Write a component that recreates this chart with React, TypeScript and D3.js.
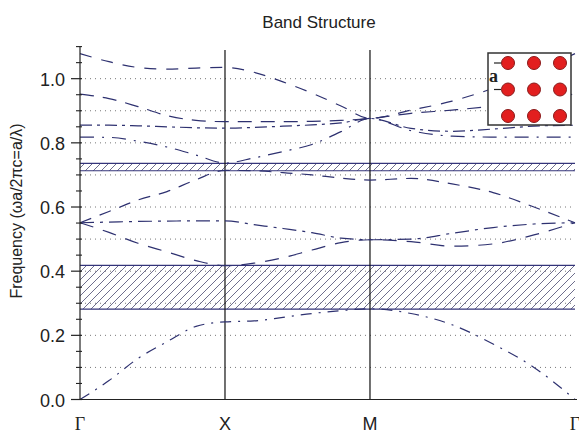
import React from "react";
import * as d3 from "d3";

const kLabels = ["Γ", "X", "M", "Γ"];
const kLabelSerif = [true, false, false, true];
const kTicks = [0, 1, 2, 3.414];
const kGrid = [0, 0.2, 0.4, 0.6, 0.8, 1.0, 1.2, 1.4, 1.6, 1.8, 2.0, 2.283, 2.566, 2.849, 3.131, 3.414];

const band1 = [0, 0.059, 0.128, 0.18, 0.228, 0.242, 0.245, 0.256, 0.268, 0.277, 0.283, 0.268, 0.233, 0.173, 0.1, 0.0];
const band2 = [0.551, 0.521, 0.487, 0.46, 0.433, 0.417, 0.425, 0.442, 0.466, 0.489, 0.498, 0.492, 0.478, 0.485, 0.513, 0.551];
const band3 = [0.551, 0.553, 0.555, 0.556, 0.557, 0.557, 0.545, 0.533, 0.52, 0.503, 0.498, 0.5, 0.518, 0.536, 0.547, 0.551];
const band4 = [0.551, 0.586, 0.622, 0.648, 0.685, 0.714, 0.713, 0.707, 0.7, 0.69, 0.684, 0.689, 0.672, 0.645, 0.6, 0.551];
const band5 = [0.818, 0.817, 0.805, 0.787, 0.762, 0.737, 0.753, 0.773, 0.795, 0.835, 0.876, 0.838, 0.821, 0.818, 0.818, 0.818];
const band6 = [0.855, 0.855, 0.853, 0.85, 0.847, 0.846, 0.848, 0.852, 0.856, 0.862, 0.876, 0.845, 0.836, 0.843, 0.852, 0.855];
const band7 = [0.952, 0.938, 0.913, 0.885, 0.87, 0.866, 0.866, 0.866, 0.867, 0.87, 0.876, 0.892, 0.902, 0.915, 0.935, 0.952];
const band8 = [1.078, 1.053, 1.035, 1.03, 1.033, 1.035, 1.02, 0.99, 0.955, 0.915, 0.876, 0.902, 0.93, 0.97, 1.02, 1.078];

const bands = [band1, band2, band3, band4, band5, band6, band7, band8];
const dashes = ["11,7,2,7", "14,10", "14,6,3,6", "12,9", "14,8,2,8", "12,5,3,5", "14,9", "12,10"];

const gaps = [
  [0.282, 0.418],
  [0.713, 0.736],
];

const gridValues = [0.1, 0.2, 0.3, 0.4, 0.5, 0.6, 0.7, 0.8, 0.9, 1.0];
const majorTicks = [0, 0.2, 0.4, 0.6, 0.8, 1.0];
const minorTicks = [0.05, 0.1, 0.15, 0.25, 0.3, 0.35, 0.45, 0.5, 0.55, 0.65, 0.7, 0.75, 0.85, 0.9, 0.95, 1.05, 1.1];

const latticeCols = [0, 1, 2];
const latticeRows = [0, 1, 2];

export default function App() {
  const W = 579;
  const H = 433;
  const x = d3.scaleLinear().domain([0, 3.414]).range([80, 575]);
  const y = d3.scaleLinear().domain([0, 1.1]).range([399.5, 46.6]);
  const line = d3
    .line<number>()
    .x((_, i) => x(kGrid[i]))
    .y((d) => y(d))
    .curve(d3.curveMonotoneX);

  const lineColor = "#2e3170";

  return (
    <svg
      width={W}
      height={H}
      style={{ position: "absolute", left: 0, top: 0, background: "#fff" }}
      fontFamily="Liberation Sans, Arial, sans-serif"
    >
      <defs>
        <pattern id="hatch" patternUnits="userSpaceOnUse" width={8} height={8}>
          <path d="M-2,2 l4,-4 M0,8 l8,-8 M6,10 l4,-4" stroke="#5e5e80" strokeWidth={0.9} />
        </pattern>
      </defs>
      <rect x={0} y={0} width={W} height={H} fill="#fff" />

      <text x={319} y={28} fontSize={17} textAnchor="middle" fill="#222">
        Band Structure
      </text>

      {/* dotted grid */}
      {gridValues.map((v) => (
        <line
          key={"g" + v}
          x1={x(0)}
          x2={x(3.414)}
          y1={y(v)}
          y2={y(v)}
          stroke="#777"
          strokeWidth={1}
          strokeDasharray="1,4"
        />
      ))}

      {/* band gaps */}
      {gaps.map(([lo, hi], i) => (
        <g key={"gap" + i}>
          <rect x={x(0)} y={y(hi)} width={x(3.414) - x(0)} height={y(lo) - y(hi)} fill="url(#hatch)" />
          <line x1={x(0)} x2={x(3.414)} y1={y(hi)} y2={y(hi)} stroke="#34347a" strokeWidth={1.2} />
          <line x1={x(0)} x2={x(3.414)} y1={y(lo)} y2={y(lo)} stroke="#34347a" strokeWidth={1.2} />
        </g>
      ))}

      {/* vertical lines at high-symmetry points */}
      {kTicks.slice(1, 3).map((k) => (
        <line key={"v" + k} x1={x(k)} x2={x(k)} y1={50} y2={y(0)} stroke="#111" strokeWidth={1.2} />
      ))}

      {/* bands */}
      {bands.map((b, i) => (
        <path
          key={"b" + i}
          d={line(b) || ""}
          fill="none"
          stroke={lineColor}
          strokeWidth={1.2}
          strokeDasharray={dashes[i]}
        />
      ))}

      {/* axes */}
      <line x1={x(0)} x2={x(0)} y1={y(1.1)} y2={y(0)} stroke="#222" strokeWidth={1.2} />
      <line x1={x(0)} x2={577} y1={y(0)} y2={y(0)} stroke="#222" strokeWidth={1.2} />
      {majorTicks.map((v) => (
        <g key={"mt" + v}>
          <line x1={71} x2={82} y1={y(v)} y2={y(v)} stroke="#222" strokeWidth={1.2} />
          <text x={65} y={y(v) + 1} fontSize={18} textAnchor="end" dominantBaseline="central" fill="#222">
            {v.toFixed(1)}
          </text>
        </g>
      ))}
      {minorTicks.map((v) => (
        <line key={"mn" + v} x1={76} x2={82} y1={y(v)} y2={y(v)} stroke="#222" strokeWidth={1.1} />
      ))}

      {kLabels.map((l, i) => (
        <text
          key={"kl" + i}
          x={x(kTicks[i])}
          y={430}
          fontSize={18}
          textAnchor="middle"
          fill="#222"
          fontFamily={kLabelSerif[i] ? "Liberation Serif, Times New Roman, serif" : undefined}
        >
          {l}
        </text>
      ))}

      <text
        transform="translate(22,211) rotate(-90)"
        fontSize={16}
        textAnchor="middle"
        fill="#222"
      >
        Frequency (ωa/2πc=a/λ)
      </text>

      {/* inset */}
      <rect x={488} y={53} width={83} height={72} fill="#fff" stroke="#333" strokeWidth={1.5} />
      {latticeRows.map((r) =>
        latticeCols.map((c) => (
          <circle
            key={"c" + r + c}
            cx={508 + c * 26}
            cy={63 + r * 26.5}
            r={6.5}
            fill="#e21f1f"
            stroke="#8a1a1a"
            strokeWidth={1}
          />
        ))
      )}
      <line x1={494} x2={501} y1={63} y2={63} stroke="#222" strokeWidth={1.2} />
      <line x1={494} x2={501} y1={89.5} y2={89.5} stroke="#222" strokeWidth={1.2} />
      <text x={489} y={82} fontSize={18} fontWeight="bold" fontFamily="Liberation Serif, Times New Roman, serif" fill="#222">
        a
      </text>
    </svg>
  );
}
